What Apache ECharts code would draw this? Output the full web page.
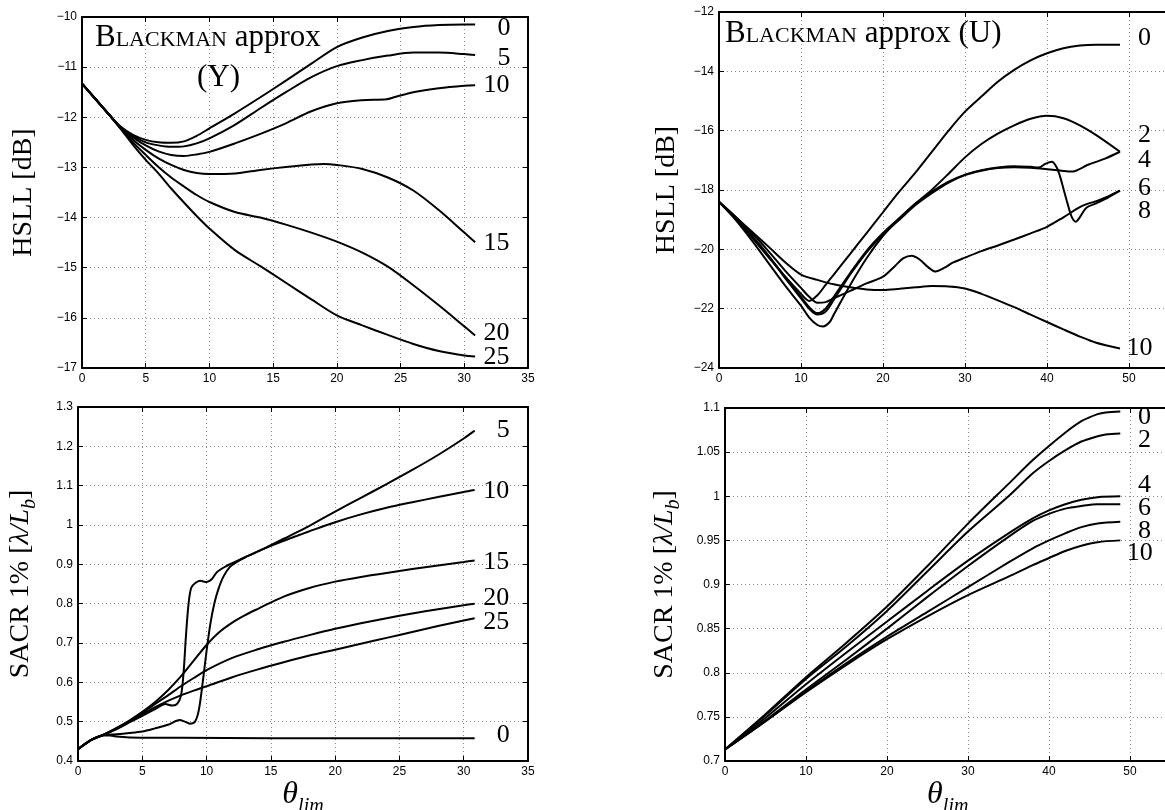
<!DOCTYPE html>
<html>
<head>
<meta charset="utf-8">
<script src="https://cdn.jsdelivr.net/npm/echarts@6/dist/echarts.min.js"></script>
<style>
  html, body { margin: 0; padding: 0; background: #fff; }
  #main { width: 1165px; height: 810px; }
</style>
</head>
<body>
<div id="main"></div>
<script>
// ---- top left: HSLL, Blackman approx (Y) ----
var tlCurve0 = [[0,-11.33],[1,-11.62],[2,-11.91],[3,-12.18],[4,-12.35],[5,-12.45],[6,-12.5],[7,-12.51],[8,-12.48],[9,-12.37],[10,-12.22],[12,-11.92],[14,-11.6],[16,-11.27],[18,-10.93],[20,-10.6],[22,-10.41],[24,-10.28],[26,-10.2],[28,-10.16],[30,-10.15],[30.85,-10.15]];
var tlCurve5 = [[0,-11.33],[1,-11.62],[2,-11.91],[3,-12.19],[4,-12.37],[5,-12.5],[6,-12.56],[7,-12.59],[8,-12.58],[9,-12.52],[10,-12.42],[12,-12.15],[14,-11.82],[16,-11.5],[18,-11.2],[20,-10.98],[22,-10.86],[24,-10.77],[26,-10.71],[28,-10.71],[30,-10.74],[30.85,-10.76]];
var tlCurve10 = [[0,-11.33],[1,-11.62],[2,-11.91],[3,-12.2],[4,-12.4],[5,-12.56],[6,-12.68],[7,-12.75],[8,-12.77],[9,-12.74],[10,-12.69],[12,-12.52],[14,-12.33],[16,-12.12],[18,-11.88],[20,-11.72],[22,-11.66],[23.9,-11.64],[24.5,-11.6],[26,-11.5],[28,-11.42],[30,-11.37],[30.85,-11.36]];
var tlCurve15 = [[0,-11.33],[1,-11.62],[2,-11.91],[3,-12.2],[4,-12.45],[5,-12.65],[6,-12.82],[7,-12.95],[8,-13.05],[9,-13.11],[10,-13.13],[12,-13.12],[14,-13.05],[16,-12.99],[18,-12.94],[19,-12.93],[20,-12.95],[22,-13.03],[24,-13.2],[26,-13.46],[28,-13.85],[30,-14.3],[30.85,-14.49]];
var tlCurve20 = [[0,-11.33],[1,-11.62],[2,-11.91],[3,-12.21],[4,-12.5],[5,-12.75],[6,-12.99],[7,-13.2],[8,-13.38],[9,-13.55],[10,-13.69],[12,-13.89],[14,-14.0],[16,-14.14],[18,-14.3],[20,-14.48],[22,-14.7],[24,-14.98],[26,-15.35],[28,-15.75],[30,-16.17],[30.85,-16.35]];
var tlCurve25 = [[0,-11.33],[1,-11.62],[2,-11.91],[3,-12.22],[4,-12.55],[5,-12.85],[6,-13.12],[7,-13.42],[8,-13.7],[9,-13.97],[10,-14.22],[12,-14.65],[14,-14.97],[16,-15.3],[18,-15.63],[20,-15.95],[22,-16.15],[24,-16.34],[26,-16.52],[28,-16.66],[30,-16.75],[30.85,-16.77]];
var tlTagText = ['0', '5', '10', '15', '20', '25'];
var tlTagAt = [[32.6,-10.22],[32.6,-10.82],[31.5,-11.36],[31.5,-14.51],[31.5,-16.31],[31.5,-16.78]];

// ---- top right: HSLL, Blackman approx (U) ----
var trCurve0 = [[0,-18.4],[2,-18.95],[4,-19.6],[6,-20.25],[8,-20.9],[10,-21.5],[11,-21.74],[12,-21.55],[13,-21.2],[14,-20.85],[16,-20.15],[18,-19.45],[20,-18.75],[22,-18.05],[24,-17.4],[26,-16.7],[28,-16.0],[30,-15.36],[32,-14.85],[34,-14.35],[36,-13.95],[38,-13.63],[40,-13.39],[42,-13.22],[44,-13.13],[46,-13.1],[48.9,-13.1]];
var trCurve2 = [[0,-18.4],[2,-19.0],[4,-19.7],[6,-20.45],[8,-21.2],[10,-21.9],[11,-22.3],[12,-22.55],[12.7,-22.6],[13.5,-22.45],[14,-22.2],[16,-21.2],[18,-20.3],[20,-19.55],[22,-18.95],[24,-18.45],[26,-17.98],[28,-17.45],[30,-16.9],[32,-16.45],[34,-16.1],[36,-15.82],[38,-15.6],[40,-15.5],[42,-15.58],[44,-15.82],[46,-16.15],[48.9,-16.71]];
var trCurve4 = [[0,-18.4],[2,-18.95],[4,-19.55],[6,-20.2],[8,-20.95],[10,-21.65],[11,-22.0],[12,-22.2],[13,-22.1],[14,-21.7],[16,-20.85],[18,-20.1],[20,-19.5],[22,-19.0],[24,-18.5],[26,-18.1],[28,-17.75],[30,-17.5],[32,-17.35],[34,-17.26],[36,-17.23],[38,-17.25],[40,-17.3],[42,-17.36],[43,-17.38],[45,-17.15],[47,-16.95],[48.9,-16.71]];
var trCurve6 = [[0,-18.4],[2,-18.95],[4,-19.55],[6,-20.2],[8,-20.9],[10,-21.6],[11,-21.95],[12,-22.15],[13,-22.0],[14,-21.6],[16,-20.8],[18,-20.05],[20,-19.45],[22,-18.95],[24,-18.45],[26,-18.05],[28,-17.72],[30,-17.48],[32,-17.33],[34,-17.24],[36,-17.2],[38,-17.22],[39,-17.24],[39.8,-17.12],[40.6,-17.05],[41.2,-17.25],[41.6,-17.55],[42,-17.95],[42.5,-18.45],[43,-18.9],[43.5,-19.07],[44,-18.92],[44.8,-18.6],[46,-18.45],[47,-18.32],[48.9,-18.02]];
var trCurve8 = [[0,-18.4],[2,-18.9],[4,-19.45],[6,-20.05],[8,-20.7],[10,-21.3],[11,-21.6],[12,-21.8],[13,-21.78],[14,-21.65],[16,-21.4],[18,-21.15],[20,-20.92],[21.5,-20.55],[22.5,-20.3],[23.5,-20.22],[24.5,-20.35],[25.5,-20.6],[26.4,-20.75],[27.5,-20.62],[28.5,-20.45],[30,-20.28],[32,-20.06],[34,-19.87],[36,-19.67],[38,-19.46],[40,-19.24],[42,-18.92],[44,-18.58],[45,-18.46],[46,-18.38],[47,-18.27],[48.9,-18.02]];
var trCurve10 = [[0,-18.4],[2,-18.9],[4,-19.4],[6,-19.9],[8,-20.42],[10,-20.85],[12,-21.03],[14,-21.18],[16,-21.28],[18,-21.35],[20,-21.37],[22,-21.33],[24,-21.28],[26,-21.24],[28,-21.25],[30,-21.32],[32,-21.5],[34,-21.72],[36,-21.95],[38,-22.2],[40,-22.45],[42,-22.7],[44,-22.94],[46,-23.15],[48.9,-23.34]];
var trTagText = ['0', '2', '4', '6', '8', '10'];
var trTagAt = [[51.1,-12.88],[51.1,-16.15],[51.1,-16.99],[51.1,-17.94],[51.1,-18.73],[49.7,-23.34]];

// ---- bottom left: SACR, (Y) ----
var blCurve0 = [[0,0.43],[0.5,0.442],[1,0.453],[1.5,0.461],[2,0.465],[2.5,0.465],[3,0.462],[4,0.46],[8,0.459],[15,0.458],[30.85,0.458]];
var blCurve5 = [[0,0.43],[1,0.453],[2,0.467],[3,0.481],[4,0.498],[5,0.515],[6,0.532],[6.8,0.545],[7.3,0.541],[7.7,0.545],[8.0,0.565],[8.2,0.62],[8.4,0.72],[8.6,0.8],[8.8,0.84],[9.1,0.852],[9.5,0.858],[10,0.855],[10.4,0.862],[10.8,0.88],[11.5,0.895],[12,0.903],[13,0.918],[14,0.933],[15,0.949],[16,0.965],[17,0.981],[18,0.998],[20,1.034],[22,1.069],[24,1.104],[26,1.14],[28,1.178],[30,1.22],[30.85,1.24]];
var blCurve10 = [[0,0.43],[1,0.453],[2,0.466],[3,0.468],[4,0.471],[5,0.475],[6,0.483],[7,0.492],[7.9,0.504],[8.3,0.5],[8.7,0.495],[9.1,0.5],[9.4,0.53],[9.7,0.6],[10,0.68],[10.3,0.75],[10.6,0.8],[10.9,0.835],[11.3,0.868],[11.8,0.893],[12.3,0.905],[13,0.918],[14,0.933],[15,0.947],[16,0.96],[17,0.972],[18,0.984],[20,1.007],[22,1.027],[24,1.044],[26,1.058],[28,1.071],[30,1.084],[30.85,1.089]];
var blCurve15 = [[0,0.43],[1,0.453],[2,0.467],[3,0.484],[4,0.503],[5,0.525],[6,0.55],[7,0.58],[8,0.615],[9,0.655],[10,0.695],[11,0.728],[12,0.752],[13,0.771],[14,0.787],[16,0.818],[18,0.84],[20,0.856],[22,0.868],[24,0.878],[26,0.888],[28,0.897],[30,0.906],[30.85,0.91]];
var blCurve20 = [[0,0.43],[1,0.453],[2,0.467],[3,0.483],[4,0.502],[5,0.522],[6,0.545],[7,0.567],[8,0.59],[9,0.611],[10,0.631],[12,0.662],[14,0.684],[16,0.703],[18,0.72],[20,0.736],[22,0.75],[24,0.763],[26,0.775],[28,0.786],[30,0.796],[30.85,0.8]];
var blCurve25 = [[0,0.43],[1,0.453],[2,0.467],[3,0.482],[4,0.5],[5,0.519],[6,0.537],[7,0.553],[8,0.567],[9,0.579],[10,0.59],[12,0.613],[14,0.633],[16,0.651],[18,0.668],[20,0.683],[22,0.698],[24,0.713],[26,0.728],[28,0.743],[30,0.757],[30.85,0.763]];
var blTagText = ['5', '10', '15', '20', '25', '0'];
var blTagAt = [[32.56,1.2415],[31.52,1.085],[31.52,0.9067],[31.52,0.8136],[31.52,0.7525],[32.56,0.466]];

// ---- bottom right: SACR, (U) ----
var brCurve0 = [[0,0.713],[5,0.753],[10,0.795],[15,0.834],[20,0.875],[25,0.921],[30,0.969],[35,1.014],[38,1.041],[40,1.057],[42,1.072],[44,1.085],[46,1.093],[47,1.095],[48.8,1.096]];
var brCurve2 = [[0,0.713],[5,0.752],[10,0.793],[15,0.83],[20,0.87],[25,0.915],[30,0.96],[35,1.0],[38,1.026],[40,1.04],[42,1.052],[44,1.062],[46,1.068],[47,1.07],[48.8,1.071]];
var brCurve4 = [[0,0.713],[5,0.749],[10,0.787],[15,0.823],[20,0.858],[25,0.893],[30,0.927],[35,0.958],[38,0.975],[40,0.984],[42,0.991],[44,0.996],[46,0.999],[48.8,1.0]];
var brCurve6 = [[0,0.713],[5,0.746],[10,0.781],[15,0.815],[20,0.85],[25,0.886],[30,0.921],[35,0.954],[38,0.972],[40,0.98],[42,0.986],[44,0.989],[46,0.991],[48.8,0.991]];
var brCurve8 = [[0,0.713],[5,0.745],[10,0.779],[15,0.811],[20,0.841],[25,0.869],[30,0.897],[35,0.925],[38,0.941],[40,0.95],[42,0.958],[44,0.965],[46,0.969],[48.8,0.971]];
var brCurve10 = [[0,0.713],[5,0.745],[10,0.778],[15,0.809],[20,0.838],[25,0.864],[30,0.888],[35,0.909],[38,0.922],[40,0.93],[42,0.938],[44,0.944],[46,0.948],[48.8,0.95]];
var brTagText = ['0', '2', '4', '6', '8', '10'];
var brTagAt = [[51.0,1.090],[51.0,1.0637],[51.0,1.0128],[51.0,0.9863],[51.0,0.9599],[49.6,0.9353]];

// axis ranges [min, max, interval]
var xRangeY = [0, 35, 5];
var xRangeU = [0, 55, 10];
var hsllRangeY = [-17, -10, 1];
var hsllRangeU = [-24, -12, 2];
var sacrRangeY = [0.4, 1.3, 0.1];
var sacrRangeU = [0.7, 1.1, 0.05];

var ink = '#000';
var serif = 'Liberation Serif';
var sans = 'Liberation Sans';

var hsllName = 'HSLL [dB]';
var sacrName = '{r|SACR 1% [}{i|λ/L}{s|b}{r|]}';
var thetaName = '{t|θ}{s|lim}';

var nameRich = {
    r: {fontFamily: serif, fontSize: 28, color: ink, verticalAlign: 'bottom', padding: [0, 0, 5, 0]},
    i: {fontFamily: serif, fontSize: 28, fontStyle: 'italic', color: ink, verticalAlign: 'bottom', padding: [0, 0, 5, 0]},
    s: {fontFamily: serif, fontSize: 20, fontStyle: 'italic', color: ink, verticalAlign: 'bottom'},
    t: {fontFamily: serif, fontSize: 32, fontStyle: 'italic', color: ink, verticalAlign: 'bottom', padding: [0, 0, 6, 0]}
};

var panels = [
    {grid: {left: 82, top: 17, width: 446, height: 351}, x: xRangeY, y: hsllRangeY,
        yName: hsllName, yGap: 44, xName: '', curves: [tlCurve0, tlCurve5, tlCurve10, tlCurve15, tlCurve20, tlCurve25],
        tagText: tlTagText, tagAt: tlTagAt},
    {grid: {left: 719, top: 12, width: 451, height: 356}, x: xRangeU, y: hsllRangeU,
        yName: hsllName, yGap: 38, xName: '', curves: [trCurve0, trCurve2, trCurve4, trCurve6, trCurve8, trCurve10],
        tagText: trTagText, tagAt: trTagAt},
    {grid: {left: 78, top: 407, width: 450, height: 354}, x: xRangeY, y: sacrRangeY,
        yName: sacrName, yGap: 38, xName: thetaName, curves: [blCurve0, blCurve5, blCurve10, blCurve15, blCurve20, blCurve25],
        tagText: blTagText, tagAt: blTagAt},
    {grid: {left: 725, top: 408, width: 445.5, height: 353}, x: xRangeU, y: sacrRangeU,
        yName: sacrName, yGap: 41, xName: thetaName, curves: [brCurve0, brCurve2, brCurve4, brCurve6, brCurve8, brCurve10],
        tagText: brTagText, tagAt: brTagAt}
];

function minus(v) {
    return String(v).replace('-', '\u2212');
}

function makeAxis(gi, pos, r, main) {
    return {
        type: 'value', gridIndex: gi, position: pos,
        min: r[0], max: r[1], interval: r[2],
        axisLine: {show: true, onZero: false, lineStyle: {color: ink, width: 2}},
        axisTick: {show: true, inside: true, length: 5, lineStyle: {color: ink, width: 1}},
        axisLabel: {show: main, margin: 5, color: ink, fontFamily: sans, fontSize: 12,
            showMaxLabel: r[1] !== 55, formatter: minus},
        splitLine: {show: main, lineStyle: {color: '#8c8c8c', width: 1, type: [1, 3]}}
    };
}

var grids = [], xAxes = [], yAxes = [], series = [];

panels.forEach(function (p, i) {
    var g = Object.assign({outerBoundsMode: 'none', containLabel: false, show: false}, p.grid);
    grids.push(g);

    var xb = makeAxis(i, 'bottom', p.x, true);
    if (p.xName) {
        xb.name = p.xName;
        xb.nameLocation = 'middle';
        xb.nameGap = 12;
        xb.nameTextStyle = {rich: nameRich};
    }
    xAxes.push(xb);
    xAxes.push(makeAxis(i, 'top', p.x, false));

    var yl = makeAxis(i, 'left', p.y, true);
    yl.name = p.yName;
    yl.nameLocation = 'middle';
    yl.nameRotate = 90;
    yl.nameGap = p.yGap;
    yl.nameTextStyle = {fontFamily: serif, fontSize: 28, color: ink, rich: nameRich};
    yAxes.push(yl);
    yAxes.push(makeAxis(i, 'right', p.y, false));

    p.curves.forEach(function (c) {
        series.push({
            type: 'line', xAxisIndex: 2 * i, yAxisIndex: 2 * i, data: c,
            symbol: 'none', smooth: 0.3, silent: true,
            lineStyle: {color: ink, width: 2}
        });
    });

    var tags = [];
    for (var k = 0; k < p.tagText.length; k++) {
        tags.push({name: p.tagText[k], value: p.tagAt[k]});
    }
    series.push({
        type: 'scatter', xAxisIndex: 2 * i, yAxisIndex: 2 * i, data: tags,
        symbol: 'circle', symbolSize: 0, itemStyle: {color: ink}, silent: true, z: 5,
        label: {show: true, position: 'right', distance: 0, align: 'left', verticalAlign: 'middle',
            formatter: '{b}', fontFamily: serif, fontSize: 26, color: ink,
            textBorderWidth: 0, opacity: 1}
    });
});

var titleRich = {
    b: {fontFamily: serif, fontSize: 31, color: ink, verticalAlign: 'bottom'},
    s: {fontFamily: serif, fontSize: 22, color: ink, verticalAlign: 'bottom', padding: [0, 0, 2, 0]},
    n: {fontFamily: serif, fontSize: 31, color: ink, verticalAlign: 'bottom'}
};

var option = {
    animation: false,
    backgroundColor: '#fff',
    grid: grids,
    xAxis: xAxes,
    yAxis: yAxes,
    series: series,
    graphic: [
        {type: 'text', left: 95, top: 22, z: 10,
            style: {text: '{b|B}{s|LACKMAN}{n| approx}', rich: titleRich}},
        {type: 'text', left: 197, top: 62, z: 10,
            style: {text: '{n|(Y)}', rich: titleRich}},
        {type: 'text', left: 725, top: 18, z: 10,
            style: {text: '{b|B}{s|LACKMAN}{n| approx (U)}', rich: titleRich}}
    ]
};

var myChart = echarts.init(document.getElementById('main'), null, {renderer: 'canvas'});
myChart.setOption(option, true);
</script>
</body>
</html>
